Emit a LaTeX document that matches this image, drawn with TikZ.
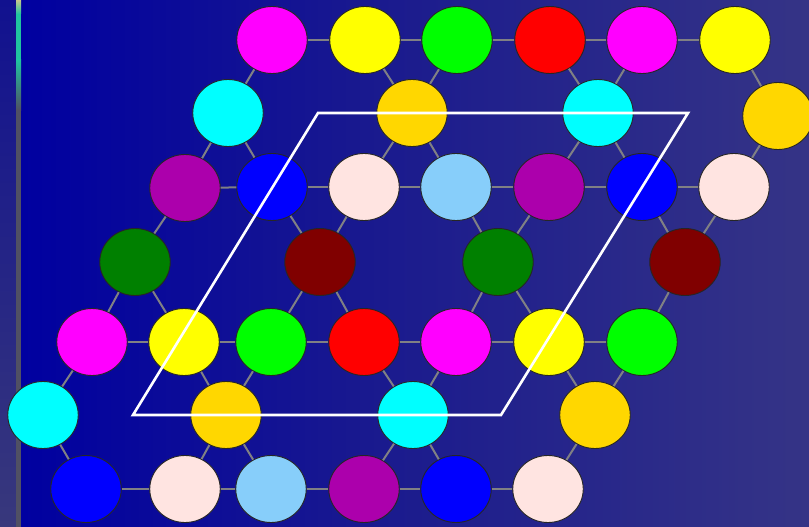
\documentclass[tikz,border=0pt]{standalone}
\usetikzlibrary{shapes.geometric}
\definecolor{bgL}{RGB}{0,0,160}
\definecolor{bgM}{RGB}{26,26,142}
\definecolor{bgR}{RGB}{53,52,134}
\definecolor{stripT}{RGB}{17,17,143}
\definecolor{stripB}{RGB}{56,56,124}
\definecolor{lineA}{RGB}{200,200,140}
\definecolor{lineB}{RGB}{32,196,160}
\definecolor{lineC}{RGB}{80,80,100}
\definecolor{mag}{RGB}{255,0,255}
\definecolor{yel}{RGB}{255,255,0}
\definecolor{grn}{RGB}{0,255,0}
\definecolor{red}{RGB}{255,0,0}
\definecolor{cya}{RGB}{0,255,255}
\definecolor{gol}{RGB}{255,215,0}
\definecolor{pur}{RGB}{172,0,172}
\definecolor{blu}{RGB}{0,0,255}
\definecolor{pnk}{RGB}{255,228,225}
\definecolor{lbl}{RGB}{135,206,250}
\definecolor{dgr}{RGB}{0,128,0}
\definecolor{mar}{RGB}{128,0,0}
\definecolor{edgegray}{RGB}{128,128,132}
\tikzset{
  dot/.style={ellipse, minimum width=70.5pt, minimum height=67pt, inner sep=0pt, draw=black!85, line width=0.9pt},
  edge/.style={draw=edgegray, line width=2pt},
  cell/.style={draw=white, line width=2.6pt, line join=miter}
}
\begin{document}
\begin{tikzpicture}[x=1pt,y=-1pt]
\useasboundingbox (0,0) rectangle (809,527);
% background
\shade[left color=bgL, right color=bgM] (21,0) rectangle (380,527);
\shade[left color=bgM, right color=bgR] (380,0) rectangle (809,527);
\shade[top color=stripT, bottom color=stripB] (0,0) rectangle (16,527);
\shade[top color=lineA, bottom color=lineB] (16,0) rectangle (21,14);
\fill[lineB] (16,14) rectangle (21,60);
\shade[top color=lineB, bottom color=lineC] (16,60) rectangle (21,110);
\fill[lineC] (16,110) rectangle (21,527);
% nodes
\foreach \n/\x/\y/\c in {
  a1/272/40/mag, a2/365/40/yel, a3/457/40/grn, a4/550/40/red, a5/642/40/mag, a6/735/40/yel,
  b1/228/113/cya, b2/412/113/gol, b3/598/113/cya, b4/778/116/gol,
  c1/185/188/pur, c2/272/187/blu, c3/364/187/pnk, c4/456/187/lbl, c5/549/187/pur, c6/642/187/blu, c7/734/187/pnk,
  d1/135/262/dgr, d2/320/262/mar, d3/498/262/dgr, d4/685/262/mar,
  e1/92/342/mag, e2/184/342/yel, e3/271/342/grn, e4/364/342/red, e5/456/342/mag, e6/549/342/yel, e7/642/342/grn,
  f1/43/415/cya, f2/226/415/gol, f3/413/415/cya, f4/595/415/gol,
  g1/86/489/blu, g2/185/489/pnk, g3/271/489/lbl, g4/364/489/pur, g5/456/489/blu, g6/548/489/pnk}
  \node[dot, fill=\c] (\n) at (\x,\y) {};
% connectors
\foreach \p/\q in {
  a1/a2, a2/a3, a3/a4, a4/a5, a5/a6,
  c1/c2, c2/c3, c3/c4, c4/c5, c5/c6, c6/c7,
  e1/e2, e2/e3, e3/e4, e4/e5, e5/e6, e6/e7,
  g1/g2, g2/g3, g3/g4, g4/g5, g5/g6,
  b1/a1, b1/c1, b1/c2,
  b2/a2, b2/a3, b2/c3, b2/c4,
  b3/a4, b3/a5, b3/c5, b3/c6,
  b4/a6, b4/c7,
  d1/c1, d1/e1, d1/e2,
  d2/c2, d2/c3, d2/e3, d2/e4,
  d3/c4, d3/c5, d3/e5, d3/e6,
  d4/c6, d4/c7, d4/e7,
  f1/e1, f1/g1,
  f2/e2, f2/e3, f2/g2, f2/g3,
  f3/e4, f3/e5, f3/g4, f3/g5,
  f4/e6, f4/e7, f4/g6}
  \draw[edge] (\p) -- (\q);
% unit cell
\coordinate (p1) at (318,113);
\coordinate (p2) at (688,113);
\coordinate (p3) at (501,415);
\coordinate (p4) at (133,415);
\draw[cell] (p1) -- (p2) -- (p3) -- (p4) -- cycle;
\end{tikzpicture}
\end{document}
